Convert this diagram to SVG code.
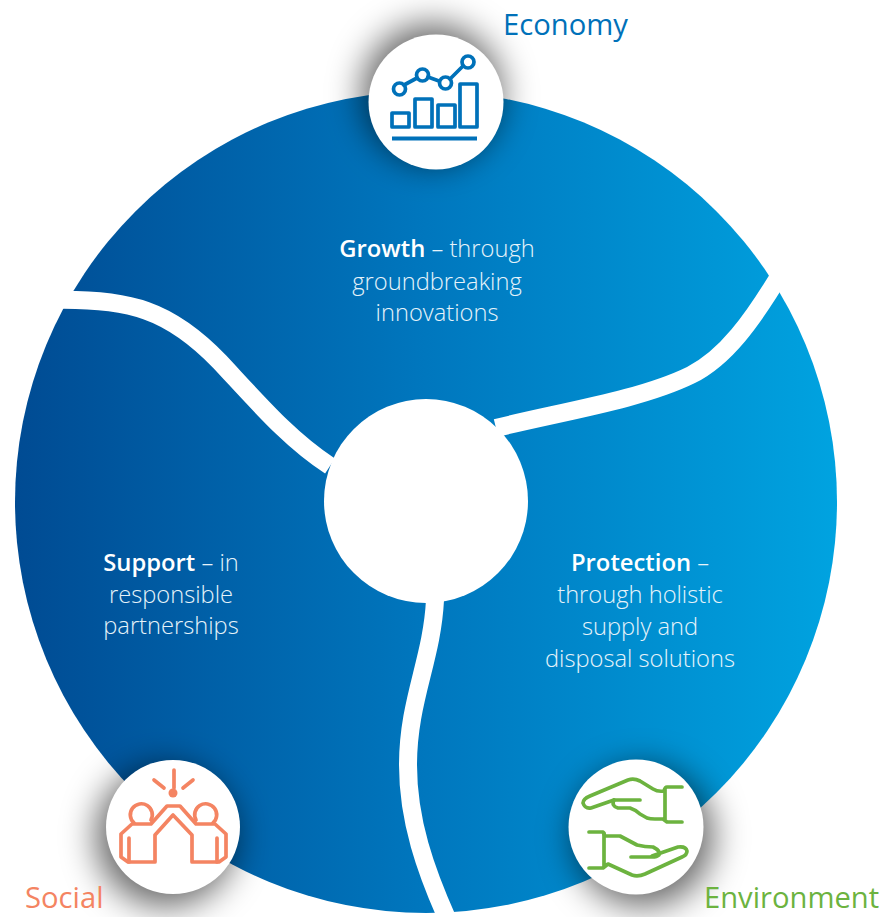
<svg xmlns="http://www.w3.org/2000/svg" width="884" height="917" viewBox="0 0 884 917">
<style>
text{font-family:"Open Sans","Noto Sans","Liberation Sans",sans-serif}
.b{font-size:23.7px;fill:#e6f3fa;font-weight:300;text-anchor:middle}
.b tspan{font-size:23.8px;font-weight:600;fill:#fff}
.t{font-size:29.2px;font-weight:500}
.d{fill:none;stroke:#fff;stroke-width:18}
.w{fill:#fff}
.s{fill:#000;fill-opacity:.6;filter:url(#blur)}
.i{fill:none;stroke-width:3.7;stroke-linejoin:round;stroke-linecap:round}
</style>
<defs>
<linearGradient id="g" gradientUnits="userSpaceOnUse" x1="15" y1="0" x2="837" y2="0">
<stop offset="0" stop-color="#004b93"/><stop offset=".5" stop-color="#0077be"/><stop offset="1" stop-color="#00a3e0"/>
</linearGradient>
<filter id="blur" x="-60%" y="-60%" width="220%" height="220%"><feGaussianBlur stdDeviation="17"/></filter>
</defs>
<g id="wheel"><circle cx="426" cy="502" r="411" fill="url(#g)"/></g>
<g id="connectors">
<path class="d" d="M496 428C560 412 640 400 691 375C725 358 752 322 784 268"/>
<path class="d" d="M50 300C130 298 170 310 220 362C260 405 290 440 330 466"/>
<path class="d" d="M435 600C432 660 408 700 408 765C408 820 425 870 450 925"/>
</g>
<g id="hub"><circle class="w" cx="426" cy="501" r="102"/></g>
<g id="growth"><text class="b" x="437" y="257"><tspan>Growth</tspan>  – through</text><text class="b" x="437" y="290">groundbreaking</text><text class="b" x="437" y="321">innovations</text></g>
<g id="support"><text class="b" x="171" y="571"><tspan>Support</tspan> – in</text><text class="b" x="171" y="603">responsible</text><text class="b" x="171" y="634">partnerships</text></g>
<g id="protection"><text class="b" x="640" y="571"><tspan>Protection</tspan> –</text><text class="b" x="640" y="603">through holistic</text><text class="b" x="640" y="635">supply and</text><text class="b" x="640" y="667">disposal solutions</text></g>
<g id="economy">
<circle class="s" cx="432" cy="94" r="70"/><circle class="w" cx="436" cy="102" r="67.5"/>
<g class="i" stroke="#0071b9">
<rect x="392" y="113" width="17" height="14"/><rect x="415" y="99" width="17" height="28"/><rect x="438" y="105" width="17" height="22"/><rect x="460" y="84" width="17" height="43"/>
<path d="M392 138.500H477" stroke-width="4" stroke-linecap="butt"/>
<path d="M404 85L417 78M428 77L439 81M450 79L463 66"/>
<circle cx="399.500" cy="89" r="6"/><circle cx="422.500" cy="75" r="6"/><circle cx="445.500" cy="83" r="6"/><circle cx="468" cy="62" r="6"/>
</g>
<text class="t" x="503" y="35" fill="#0071b9">Economy</text>
</g>
<g id="social">
<circle class="s" cx="166" cy="836" r="70"/><circle class="w" cx="173" cy="827" r="67"/>
<g class="i" stroke="#f48462">
<path d="M174 770V788M154 780L164 788M193 780L183 788"/>
<path d="M134 823A11 11 0 1 1 151 820M213 823A11 11 0 1 0 196 820"/>
<path d="M121 834L132 824H151L167 806H180L196 824H215L226 834V857L219 862H192V835L173 815L155 835V862H128L121 857Z"/>
<path d="M129 838V862M217 838V862"/>
</g>
<circle cx="173" cy="793" r="4.500" fill="#f48462"/>
<text class="t" x="25" y="908" fill="#f48462">Social</text>
</g>
<g id="environment">
<circle class="s" cx="643" cy="836" r="70"/><circle class="w" cx="636" cy="827" r="67.500"/>
<g class="i" stroke="#6cb33f">
<path d="M682 787H667Q665 787 664 791Q658 792 653 789L640 781Q634 778 628 780L590 796Q583 799 583 803Q585 809 591 808L614 800H640"/>
<path d="M614 800Q611 806 618 808H630Q636 810 640 814L647 818Q650 819 655 819H663L667 822H682M665 790V819"/>
<path d="M589 832H603L605 836H620L637 845Q645 847 653 847Q661 851 659 855Q657 857 652 857H631"/>
<path d="M652 856L678 847Q686 846 687 851Q687 855 682 857L645 874Q638 877 632 875L608 864L603 868H589M604 833V867"/>
</g>
<text class="t" x="704" y="908" fill="#6cb33f">Environment</text>
</g>
</svg>
